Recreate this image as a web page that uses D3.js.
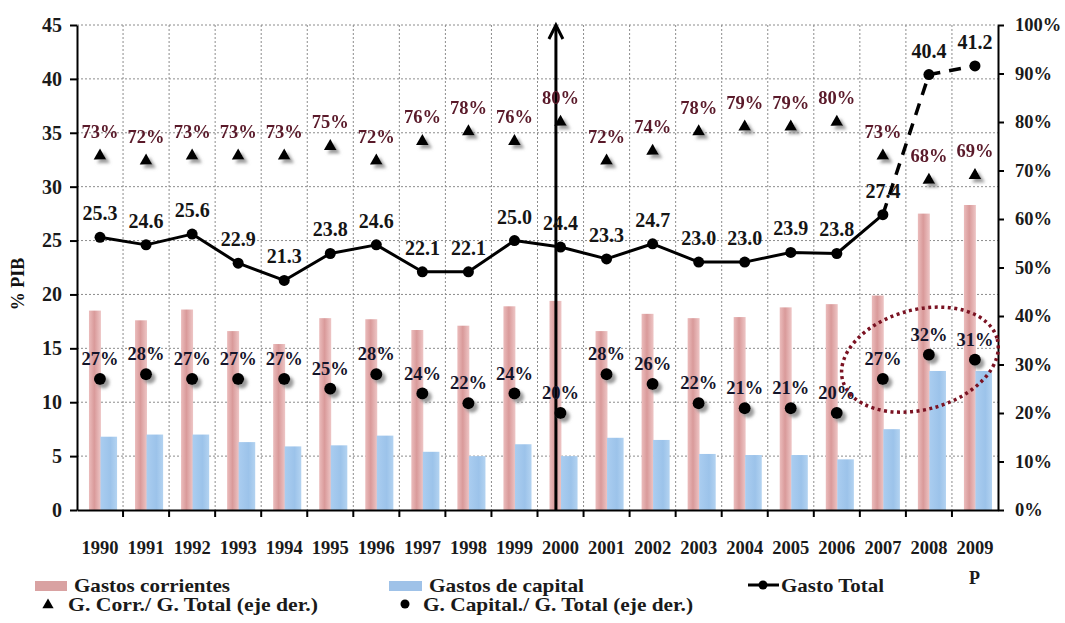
<!DOCTYPE html>
<html>
<head>
<meta charset="utf-8">
<script src="https://cdn.jsdelivr.net/npm/d3@7"></script>
<style>
  html, body { margin: 0; padding: 0; background: #fff; }
  svg { display: block; font-family: "Liberation Serif", "DejaVu Serif", serif; }
</style>
</head>
<body>
<svg id="chart" width="1065" height="623"></svg>
<script>
// Gasto público (% del PIB), 1990-2009p
const years = ["1990","1991","1992","1993","1994","1995","1996","1997","1998","1999",
               "2000","2001","2002","2003","2004","2005","2006","2007","2008","2009"];
const gastosCorrientes = [18.5,17.6,18.6,16.6,15.4,17.8,17.7,16.7,17.1,18.9,
                          19.4,16.6,18.2,17.8,17.9,18.8,19.1,19.9,27.5,28.3];
const gastosCapital = [6.8,7.0,7.0,6.3,5.9,6.0,6.9,5.4,5.0,6.1,
                       5.0,6.7,6.5,5.2,5.1,5.1,4.7,7.5,12.9,12.9];
const gastoTotal = [25.3,24.6,25.6,22.9,21.3,23.8,24.6,22.1,22.1,25.0,
                    24.4,23.3,24.7,23.0,23.0,23.9,23.8,27.4,40.4,41.2];
const corrSobreTotal = [73,72,73,73,73,75,72,76,78,76,80,72,74,78,79,79,80,73,68,69];
const capSobreTotal = [27,28,27,27,27,25,28,24,22,24,20,28,26,22,21,21,20,27,32,31];
const leftTicks = [0,5,10,15,20,25,30,35,40,45];
const rightTicks = [0,10,20,30,40,50,60,70,80,90,100];
const legendNames = ["Gastos corrientes","Gastos de capital","Gasto Total",
                     "G. Corr./ G. Total (eje der.)","G. Capital./ G. Total (eje der.)"];
const provisionalYear = "2009";   // dato provisional, marcado con "P"
const markerYear = "2000";        // año señalado con la flecha vertical
const solidUntil = "2007";        // la serie total pasa a trazo discontinuo después

const svg = d3.select("#chart");
const L = 77, R = 998, T = 25, B = 510;

const x = d3.scaleBand().domain(years).range([L, R]).padding(0);
const bw = x.bandwidth();
const yL = d3.scaleLinear().domain([0, 45]).range([B, T]);
const yR = d3.scaleLinear().domain([0, 100]).range([B, T]);
const cx = d => x(d) + bw / 2;

// defs: bar gradients and marker shadow
const defs = svg.append("defs");
const gRed = defs.append("linearGradient").attr("id", "gRed").attr("x1", 0).attr("x2", 1).attr("y1", 0).attr("y2", 0);
gRed.append("stop").attr("offset", "0%").attr("stop-color", "#ebbcbc");
gRed.append("stop").attr("offset", "45%").attr("stop-color", "#d99a9a");
gRed.append("stop").attr("offset", "100%").attr("stop-color", "#eec6c6");
const gBlue = defs.append("linearGradient").attr("id", "gBlue").attr("x1", 0).attr("x2", 1).attr("y1", 0).attr("y2", 0);
gBlue.append("stop").attr("offset", "0%").attr("stop-color", "#aacdf0");
gBlue.append("stop").attr("offset", "60%").attr("stop-color", "#9cc3ea");
gBlue.append("stop").attr("offset", "100%").attr("stop-color", "#b3d3f1");
const sh = defs.append("filter").attr("id", "shadow").attr("x", "-50%").attr("y", "-50%").attr("width", "200%").attr("height", "200%");
sh.append("feDropShadow").attr("dx", 3.5).attr("dy", 3.5).attr("stdDeviation", 1.4)
  .attr("flood-color", "#8a8a8a").attr("flood-opacity", 0.85);

// grid
const grid = svg.append("g").attr("stroke", "#8c8c8c").attr("stroke-width", 1).attr("stroke-dasharray", "2,2");
grid.selectAll("line.h").data(leftTicks.filter(d => d > 0)).join("line")
  .attr("x1", L).attr("x2", R).attr("y1", d => yL(d)).attr("y2", d => yL(d));
grid.selectAll("line.v").data(years.slice(1)).join("line")
  .attr("x1", d => x(d)).attr("x2", d => x(d)).attr("y1", T).attr("y2", B);

// bars
svg.append("g").selectAll("rect").data(years).join("rect")
  .attr("x", d => x(d) + bw * 0.26).attr("width", bw * 0.26)
  .attr("y", (d, i) => yL(gastosCorrientes[i]))
  .attr("height", (d, i) => yL(0) - yL(gastosCorrientes[i]))
  .attr("fill", "url(#gRed)");
svg.append("g").selectAll("rect").data(years).join("rect")
  .attr("x", d => x(d) + bw * 0.51).attr("width", bw * 0.36)
  .attr("y", (d, i) => yL(gastosCapital[i]))
  .attr("height", (d, i) => yL(0) - yL(gastosCapital[i]))
  .attr("fill", "url(#gBlue)");

// axes
const font = "Liberation Serif, DejaVu Serif, serif";
const axL = svg.append("g").attr("transform", `translate(${L},0)`)
  .call(d3.axisLeft(yL).tickValues(leftTicks).tickSize(7).tickSizeOuter(0).tickPadding(8));
const axR = svg.append("g").attr("transform", `translate(${R},0)`)
  .call(d3.axisRight(yR).tickValues(rightTicks).tickFormat(d => d + "%").tickSize(6).tickSizeOuter(0).tickPadding(11));
const axB = svg.append("g").attr("transform", `translate(0,${B})`)
  .call(d3.axisBottom(x).tickSize(0).tickSizeOuter(0).tickPadding(31));
[axL, axR, axB].forEach(a => {
  a.select(".domain").attr("stroke", "#000").attr("stroke-width", 2);
  a.selectAll(".tick line").attr("stroke", "#000").attr("stroke-width", 2);
  a.selectAll("text").attr("font-family", font).attr("font-weight", "bold").attr("fill", "#1a1a1a");
});
axL.selectAll("text").attr("font-size", 20);
axR.selectAll("text").attr("font-size", 18.5);
axB.selectAll("text").attr("font-size", 18.5);
// bottom ticks sit on the category boundaries
axB.append("g").selectAll("line").data(years.slice(1)).join("line")
  .attr("x1", d => x(d)).attr("x2", d => x(d)).attr("y1", 0).attr("y2", 7)
  .attr("stroke", "#000").attr("stroke-width", 2);

// y title
svg.append("text").attr("transform", "translate(24,284) rotate(-90)")
  .attr("text-anchor", "middle").attr("font-size", 18).attr("font-weight", "bold")
  .attr("font-family", font).attr("fill", "#111").text("% PIB");

// vertical arrow at 2000
const xa = x(markerYear) + bw * 0.4;
svg.append("line").attr("x1", xa).attr("x2", xa).attr("y1", B).attr("y2", T + 2)
  .attr("stroke", "#000").attr("stroke-width", 3);
svg.append("path").attr("d", `M${xa - 7},${T + 14} L${xa},${T} L${xa + 7},${T + 14}`)
  .attr("fill", "none").attr("stroke", "#000").attr("stroke-width", 3);

// gasto total line
const iSolid = years.indexOf(solidUntil);
const pts = years.map((d, i) => [cx(d), yL(gastoTotal[i])]);
const line = d3.line();
svg.append("path").attr("d", line(pts.slice(0, iSolid + 1)))
  .attr("fill", "none").attr("stroke", "#000").attr("stroke-width", 3).attr("stroke-linejoin", "round");
svg.append("path").attr("d", line(pts.slice(iSolid)))
  .attr("fill", "none").attr("stroke", "#000").attr("stroke-width", 3.5).attr("stroke-dasharray", "12,9");
svg.append("g").selectAll("circle").data(pts).join("circle")
  .attr("cx", d => d[0]).attr("cy", d => d[1]).attr("r", 5.5).attr("fill", "#000");
svg.append("g").selectAll("text").data(years).join("text")
  .attr("x", d => cx(d)).attr("y", (d, i) => yL(gastoTotal[i]) - 17)
  .attr("text-anchor", "middle").attr("font-size", 20).attr("font-weight", "bold")
  .attr("font-family", font).attr("fill", "#151515")
  .text((d, i) => gastoTotal[i].toFixed(1));

// ratio markers (right axis)
const tri = d3.symbol().type(d3.symbolTriangle).size(70);
svg.append("g").attr("filter", "url(#shadow)").selectAll("path").data(years).join("path")
  .attr("transform", (d, i) => `translate(${cx(d)},${yR(corrSobreTotal[i])})`)
  .attr("d", tri).attr("fill", "#000");
svg.append("g").selectAll("text").data(years).join("text")
  .attr("x", d => cx(d)).attr("y", (d, i) => yR(corrSobreTotal[i]) - 18)
  .attr("text-anchor", "middle").attr("font-size", 18.5).attr("font-weight", "bold")
  .attr("font-family", font).attr("fill", "#5a1a2a")
  .text((d, i) => corrSobreTotal[i] + "%");

svg.append("g").attr("filter", "url(#shadow)").selectAll("circle").data(years).join("circle")
  .attr("cx", d => cx(d)).attr("cy", (d, i) => yR(capSobreTotal[i])).attr("r", 6).attr("fill", "#000");
svg.append("g").selectAll("text").data(years).join("text")
  .attr("x", d => cx(d)).attr("y", (d, i) => yR(capSobreTotal[i]) - 14)
  .attr("text-anchor", "middle").attr("font-size", 18.5).attr("font-weight", "bold")
  .attr("font-family", font).attr("fill", "#14142a")
  .text((d, i) => capSobreTotal[i] + "%");

// dotted ellipse around the last three capital ratios
const ex = (cx("2007") + cx("2009")) / 2 - 9, ey = yR(31);
svg.append("ellipse").attr("transform", `translate(${ex},${ey}) rotate(-15)`)
  .attr("rx", 80).attr("ry", 50).attr("fill", "none")
  .attr("stroke", "#7a1222").attr("stroke-width", 3.5).attr("stroke-dasharray", "3,3.5");

// legend
const lg = svg.append("g").attr("font-family", font).attr("font-weight", "bold")
  .attr("font-size", 19).attr("fill", "#1a1a1a");
lg.append("rect").attr("x", 35).attr("y", 581).attr("width", 32).attr("height", 10).attr("fill", "#d9a2a2");
lg.append("text").attr("x", 74).attr("y", 592).attr("textLength", 156).attr("lengthAdjust", "spacingAndGlyphs").text(legendNames[0]);
lg.append("rect").attr("x", 389).attr("y", 581).attr("width", 33).attr("height", 10).attr("fill", "#9fc2e8");
lg.append("text").attr("x", 429).attr("y", 592).attr("textLength", 155).attr("lengthAdjust", "spacingAndGlyphs").text(legendNames[1]);
lg.append("line").attr("x1", 748).attr("x2", 779).attr("y1", 585).attr("y2", 585).attr("stroke", "#000").attr("stroke-width", 3);
lg.append("circle").attr("cx", 763).attr("cy", 585).attr("r", 4.5).attr("fill", "#000");
lg.append("text").attr("x", 781).attr("y", 592).attr("textLength", 103).attr("lengthAdjust", "spacingAndGlyphs").text(legendNames[2]);
lg.append("path").attr("transform", "translate(48,605)").attr("d", d3.symbol().type(d3.symbolTriangle).size(55)).attr("fill", "#000");
lg.append("text").attr("x", 68).attr("y", 611).attr("textLength", 250).attr("lengthAdjust", "spacingAndGlyphs").text(legendNames[3]);
lg.append("circle").attr("cx", 405).attr("cy", 604).attr("r", 4.5).attr("fill", "#000");
lg.append("text").attr("x", 423).attr("y", 611).attr("textLength", 270).attr("lengthAdjust", "spacingAndGlyphs").text(legendNames[4]);
lg.append("text").attr("x", cx(provisionalYear) - 6).attr("y", 584).attr("font-size", 18).text("P");
</script>
</body>
</html>
